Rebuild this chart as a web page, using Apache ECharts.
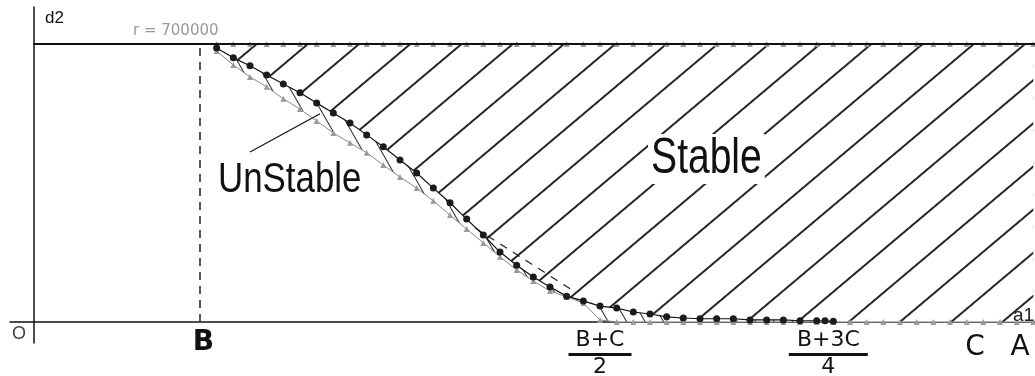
<!DOCTYPE html>
<html>
<head>
<meta charset="utf-8">
<script src="https://cdn.jsdelivr.net/npm/echarts@6/dist/echarts.min.js"></script>
<style>
  html, body { margin: 0; padding: 0; background: #fff; }
  #chart { width: 1035px; height: 376px; }
</style>
</head>
<body>
<div id="chart"></div>
<script>
// Level of the upper boundary r
const R = 700000;
// Position of B on the a1 axis
const B_POS = 10;

// Tick labels along the a1 axis
const labelPos = [10.2, 34, 47.7, 56.5, 59.2];
const labelNum = ['B', 'B+C', 'B+3C', 'C', 'A'];
const labelDen = ['', '2', '4', '', ''];

// Upper boundary curve (black dots)
const blackX = [11, 12, 13, 14, 15, 16, 17, 18, 19, 20,
                21, 22, 23, 24, 25, 26, 27, 28, 29, 30,
                31, 32, 33, 34, 35, 36, 37, 38, 39, 40,
                41, 42, 43, 44, 45, 46, 47, 47.5, 48];
const blackY = [690000, 665000, 645000, 622000, 599000, 577000, 551000, 526000, 501000, 471000,
                441000, 408000, 375000, 337000, 300000, 259000, 219000, 176000, 143000, 113000,
                88000, 65000, 53000, 40000, 35000, 25000, 20000, 13000, 10000, 8000,
                8000, 8000, 5000, 5000, 5000, 3000, 3000, 3000, 2000];

// Lower boundary curve (grey markers)
const grayX = [11, 12, 13, 14, 15, 16, 17, 18, 19, 20,
               21, 22, 23, 24, 25, 26, 27, 28, 29, 30,
               31, 32, 33, 34, 35, 36, 37, 38, 39, 40,
               41, 42, 43, 44, 45, 46, 47, 48, 49, 50,
               51, 52, 53, 54, 55, 56, 57, 58, 59, 60];
const grayY = [682000, 647000, 617000, 592000, 562000, 536000, 506000, 476000, 451000, 426000,
               395000, 365000, 337000, 305000, 269000, 234000, 199000, 164000, 131000, 103000,
               78000, 63000, 48000, 5000, 0, 0, 0, 0, 0, 0,
               0, 0, 0, 0, 0, 0, 0, 0, 0, 0,
               0, 0, 0, 0, 0, 0, 0, 0, 0, 0];

// Sample points along r = 700000
const topX = [11, 12, 13, 14, 15, 16, 17, 18, 19, 20,
              21, 22, 23, 24, 25, 26, 27, 28, 29, 30,
              31, 32, 33, 34, 35, 36, 37, 38, 39, 40,
              41, 42, 43, 44, 45, 46, 47, 48, 49, 50,
              51, 52, 53, 54, 55, 56, 57, 58, 59, 60];

// Pointer from the "UnStable" label into the gap between the curves
const pointerX = [13.0, 17.2];
const pointerY = [428000, 524000];

// Dashed reference segment near the knee of the curve
const guideX = [26.5, 32.3];
const guideY = [237000, 81000];

const pts = (xs, ys) => xs.map((x, i) => [x, ys[i]]);
const blackPts = pts(blackX, blackY);
const grayPts = pts(grayX, grayY);
const topPts = topX.map(x => [x, R]);
const lastBlack = blackX[blackX.length - 1];
const stableEdge = blackPts.concat(grayPts.filter(p => p[0] > lastBlack));

const hatchStable = {
  symbol: 'rect', symbolSize: 1,
  dashArrayX: [1, 0], dashArrayY: [2, 31],
  rotation: -0.70, color: 'rgba(0,0,0,0.85)'
};
const hatchGap = {
  symbol: 'rect', symbolSize: 1,
  dashArrayX: [1, 0], dashArrayY: [1, 15],
  rotation: 1.05, color: 'rgba(0,0,0,0.85)'
};

const rich = {
  big:  { fontFamily: 'DejaVu Sans', fontSize: 28, color: '#111', lineHeight: 40 },
  bigB: { fontFamily: 'DejaVu Sans', fontSize: 28, fontWeight: 'bold', color: '#111', lineHeight: 30 },
  num:  { fontFamily: 'DejaVu Sans', fontSize: 22, color: '#111', lineHeight: 24 },
  den:  { fontFamily: 'DejaVu Sans', fontSize: 22, color: '#111', lineHeight: 20 },
  bar1: { width: 63, height: 3, lineHeight: 5, backgroundColor: '#111' },
  bar2: { width: 79, height: 3, lineHeight: 5, backgroundColor: '#111' }
};

function tickLabel(value) {
  let i = 0, best = Infinity;
  labelPos.forEach((p, k) => { const d = Math.abs(p - value); if (d < best) { best = d; i = k; } });
  if (labelDen[i]) {
    return '{num|' + labelNum[i] + '}\n{bar' + i + '|}\n{den|' + labelDen[i] + '}';
  }
  return i === 0 ? '{bigB|' + labelNum[i] + '}' : '{big|' + labelNum[i] + '}';
}

const chart = echarts.init(document.getElementById('chart'), null, { renderer: 'canvas' });

chart.setOption({
  animation: false,
  grid: { left: 10, right: 0, top: 7, bottom: 33, outerBoundsMode: 'none' },
  xAxis: {
    type: 'value', min: -1.4, max: 60.1,
    splitLine: { show: false },
    axisTick: { show: false },
    axisLine: { onZero: true, lineStyle: { color: '#111', width: 1.5 } },
    axisLabel: { customValues: labelPos, margin: -15, formatter: tickLabel, rich: rich }
  },
  yAxis: {
    type: 'value', min: -53000, max: 793000,
    splitLine: { show: false },
    axisTick: { show: false },
    axisLabel: { show: false },
    axisLine: { show: true, onZero: true, lineStyle: { color: '#111', width: 1.5 } }
  },
  series: [
    {
      // hatching inside the narrow band between the two curves
      type: 'line', data: grayPts, z: 1, symbol: 'none', silent: true,
      lineStyle: { width: 0, opacity: 0 },
      areaStyle: { origin: R, color: '#fff', opacity: 1 },
      itemStyle: { decal: hatchGap }
    },
    {
      // hatching of the stable region
      type: 'line', data: stableEdge, z: 2, symbol: 'none', silent: true,
      lineStyle: { width: 0, opacity: 0 },
      areaStyle: { origin: R, color: '#fff', opacity: 1 },
      itemStyle: { decal: hatchStable }
    },
    {
      type: 'line', data: topPts, z: 4,
      symbol: 'triangle', symbolSize: 6,
      itemStyle: { color: '#9a9a9a' },
      lineStyle: { width: 0, opacity: 0 },
      markLine: {
        silent: true, symbol: ['none', 'none'], label: { show: false }, animation: false,
        data: [
          [{ coord: [0, R], lineStyle: { color: '#111', width: 2, type: 'solid' } }, { coord: [60.1, R] }],
          [{ coord: [B_POS, 0], lineStyle: { color: '#222', width: 1.5, type: [8, 6] } }, { coord: [B_POS, R] }],
          [{ coord: [pointerX[0], pointerY[0]], lineStyle: { color: '#111', width: 1.2, type: 'solid' } },
           { coord: [pointerX[1], pointerY[1]] }],
          [{ coord: [guideX[0], guideY[0]], lineStyle: { color: '#222', width: 1.2, type: [8, 7] } },
           { coord: [guideX[1], guideY[1]] }]
        ]
      }
    },
    {
      type: 'line', data: grayPts, z: 4,
      symbol: 'triangle', symbolSize: 6,
      itemStyle: { color: '#9a9a9a' },
      lineStyle: { color: '#888', width: 1 }
    },
    {
      type: 'line', data: blackPts, z: 5,
      symbol: 'circle', symbolSize: 7,
      itemStyle: { color: '#1b1b1b' },
      lineStyle: { color: '#111', width: 1.2 }
    }
  ],
  graphic: [
    { type: 'text', z: 100, x: 45, y: 10, style: { text: 'd2', font: '17px "Liberation Sans"', fill: '#111' } },
    { type: 'text', z: 100, x: 133, y: 24, style: { text: 'r = 700000', font: '15px "DejaVu Sans"', fill: '#999' } },
    { type: 'text', z: 100, x: 12, y: 325, style: { text: 'O', font: '18px "Liberation Sans"', fill: '#444' } },
    { type: 'text', z: 100, x: 1013, y: 306, style: { text: 'a1', font: '19px "Liberation Sans"', fill: '#222' } },
    { type: 'text', z: 100, x: 648, y: 134, scaleX: 0.78,
      style: { text: 'Stable', font: '50px "Liberation Sans"', fill: '#111', backgroundColor: '#fff', padding: [0, 4] } },
    { type: 'text', z: 100, x: 218, y: 159, scaleX: 0.83, style: { text: 'UnStable', font: '42px "Liberation Sans"', fill: '#111' } }
  ]
});
</script>
</body>
</html>
